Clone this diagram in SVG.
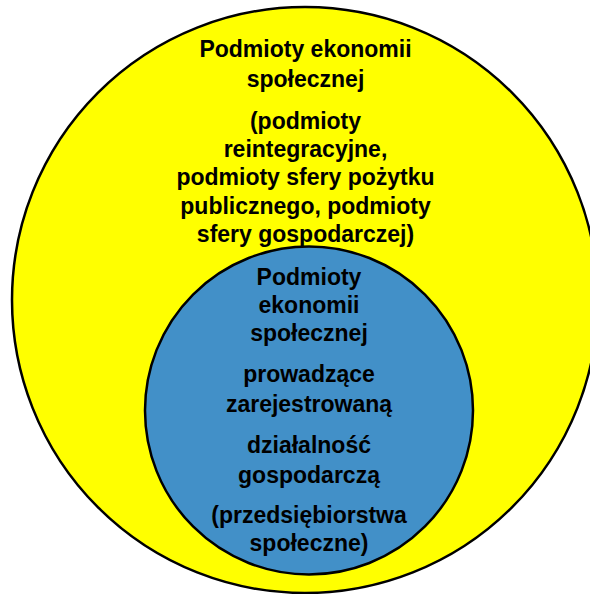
<svg xmlns="http://www.w3.org/2000/svg" width="590" height="594" viewBox="0 0 590 594">
<style>
.t{font-family:"Liberation Sans",Arial,sans-serif;font-weight:bold;font-size:23px;fill:#000;text-anchor:middle}
</style>
<rect width="590" height="594" fill="#fff"/>
<g id="outer">
<circle cx="305" cy="300" r="293" fill="#ffff00" stroke="#000" stroke-width="2.5"/>
<text class="t" x="305.5" y="57">Podmioty ekonomii</text>
<text class="t" x="305.5" y="87">społecznej</text>
<text class="t" x="305.5" y="129">(podmioty</text>
<text class="t" x="305.5" y="157">reintegracyjne,</text>
<text class="t" x="305.5" y="185">podmioty sfery pożytku</text>
<text class="t" x="305.5" y="214">publicznego, podmioty</text>
<text class="t" x="305.5" y="242">sfery gospodarczej)</text>
</g>
<g id="inner">
<circle cx="309" cy="410.5" r="164" fill="#4290c8" stroke="#000" stroke-width="2.5"/>
<text class="t" x="309" y="285">Podmioty</text>
<text class="t" x="309" y="313">ekonomii</text>
<text class="t" x="309" y="341">społecznej</text>
<text class="t" x="309" y="382">prowadzące</text>
<text class="t" x="309" y="412">zarejestrowaną</text>
<text class="t" x="309" y="453">działalność</text>
<text class="t" x="309" y="483">gospodarczą</text>
<text class="t" x="309" y="523">(przedsiębiorstwa</text>
<text class="t" x="309" y="551">społeczne)</text>
</g>
<g id="connectors"/>
</svg>
